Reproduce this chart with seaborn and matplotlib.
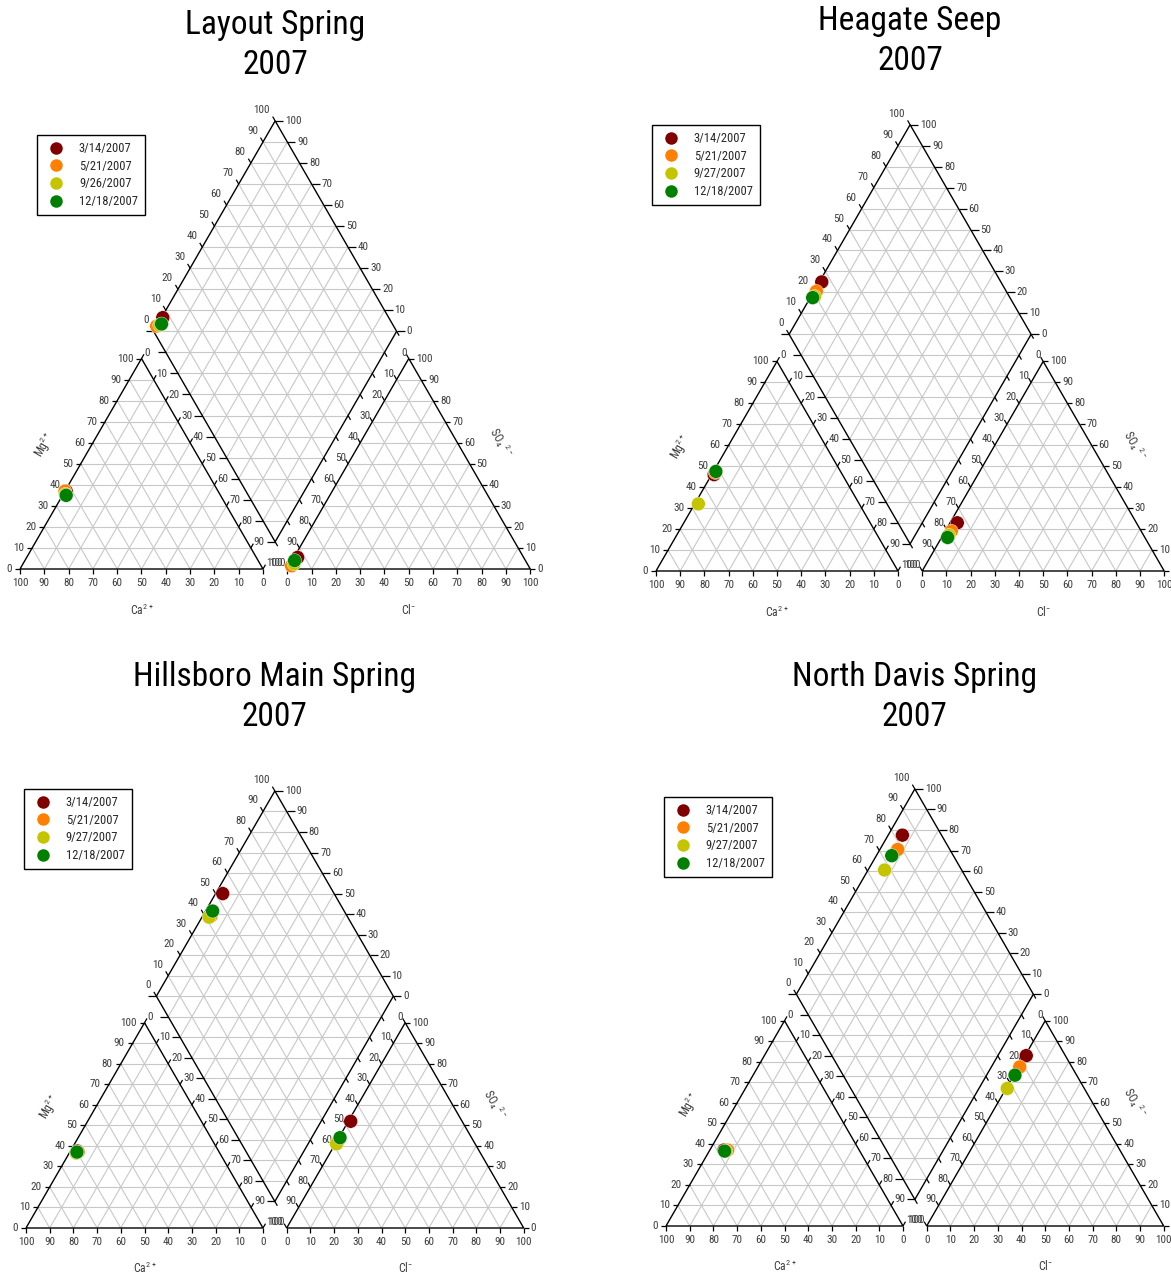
import numpy as np
import pandas as pd
import matplotlib
matplotlib.use('Agg')
import matplotlib.pyplot as plt
from matplotlib import font_manager
from matplotlib.collections import LineCollection
import seaborn as sns

# ------------------ data (percent of meq) ------------------
sites = ['Layout Spring', 'Heagate Seep', 'Hillsboro Main Spring', 'North Davis Spring']
year = '2007'
dates = [['3/14/2007', '5/21/2007', '9/26/2007', '12/18/2007'],
         ['3/14/2007', '5/21/2007', '9/27/2007', '12/18/2007'],
         ['3/14/2007', '5/21/2007', '9/27/2007', '12/18/2007'],
         ['3/14/2007', '5/21/2007', '9/27/2007', '12/18/2007']]
colors = ['#800000', '#ff8000', '#c4c400', '#008000']

# cations: Mg and Na+K (Ca is the rest)
mg = [[37, 37, 35.5, 35], [46, 47, 32, 47.5], [37.5, 37, 36.5, 37], [37, 37, 36.5, 36.5]]
nak = [[0.5, 0, 1, 1.5], [1, 1, 1.5, 1], [3, 3.5, 3, 3], [6, 7.5, 7, 6.5]]
# anions: SO4 and Cl (HCO3 is the rest)
so4 = [[5.5, 1.5, 2.5, 4], [23, 19, 17, 16], [52, 42, 41, 44], [83, 77.5, 67, 73.5]]
cl = [[1.5, 1, 1.5, 1], [3, 2.5, 2.5, 2.5], [1, 0.5, 0.5, 0.5], [0.5, 0.5, 0.5, 0.5]]

# ------------------ layout ------------------
W, HH = 1171, 1275
quads = [(0, 0, 585, 637), (585, 0, 1171, 637), (0, 637, 585, 1275), (585, 637, 1171, 1275)]
origins = [(20, 569, 243), (656, 571, 242), (26, 1228, 237), (666, 1226, 237)]
title_px = [45, 41, 697, 697]
legend_px = [(37, 135), (652, 125), (24, 789), (664, 797)]

H = np.sqrt(3) / 2
GAP = 0.1
YB = 0.112
CX = 1 + GAP / 2
GRID = '#c8c8c8'
TXT = '#3c3c3c'


def pick_narrow():
    fl = font_manager.fontManager.ttflist
    for name in ('Liberation Sans Narrow', 'Arial Narrow', 'Roboto Condensed', 'Open Sans Condensed'):
        if any(f.name == name for f in fl):
            return name, 'normal', True
    for fam in ('Liberation Sans', 'Noto Sans', 'DejaVu Sans', 'Open Sans', 'Roboto'):
        for f in fl:
            if (f.name == fam and f.stretch in ('condensed', 'semi-condensed', 'extra-condensed')
                    and f.style == 'normal' and f.weight in (400, 'normal', 'regular', 'book')):
                return fam, f.stretch, True
    return 'Liberation Sans', 'normal', False


sns.set_style('white')
fam, stretch, narrow = pick_narrow()
plt.rcParams['font.family'] = [fam, 'DejaVu Sans']
plt.rcParams['font.stretch'] = stretch
plt.rcParams['mathtext.fontset'] = 'custom'
plt.rcParams['mathtext.rm'] = 'Liberation Sans'
plt.rcParams['mathtext.default'] = 'regular'

TITLE_FS = 24 if narrow else 20.5
LEG_FS = 9 if narrow else 8.2
TICK_FS = 8 if narrow else 7


def dp(n, c):
    return (CX + (n - c) / 2, YB + (2 - n - c) * H)


def draw_frame(ax, s):
    p = 1.0 / s
    tl = 5 * p
    grid, edges, ticks = [], [], []
    fs = TICK_FS
    for x0 in (0, 1 + GAP):
        edges.append([(x0, 0), (x0 + 1, 0), (x0 + 0.5, H), (x0, 0)])
        for k in range(1, 10):
            f = k / 10
            grid.append([(x0 + f / 2, f * H), (x0 + 1 - f / 2, f * H)])
            grid.append([(x0 + f, 0), (x0 + f + (1 - f) / 2, (1 - f) * H)])
            grid.append([(x0 + 1 - f, 0), (x0 + (1 - f) / 2, (1 - f) * H)])
    edges.append([dp(0, 1), dp(0, 0), dp(1, 0), dp(1, 1), dp(0, 1)])
    for k in range(1, 10):
        f = k / 10
        grid.append([dp(f, 0), dp(f, 1)])
        grid.append([dp(0, f), dp(1, f)])
    for k in range(1, 20):
        t = k / 10
        if t <= 1:
            grid.append([dp(0, t), dp(t, 0)])
        else:
            grid.append([dp(t - 1, 1), dp(1, t - 1)])

    xa = 1 + GAP
    for k in range(11):
        f = k / 10
        lab = str(k * 10)
        # cation: Mg on left edge
        px, py = f / 2, f * H
        ticks.append([(px, py), (px - tl, py)])
        ax.text(px - 8 * p, py, lab, ha='right', va='center', fontsize=fs, color=TXT)
        # cation: Ca on base (100 at left)
        ticks.append([(f, 0), (f, -tl)])
        ax.text(f, -14 * p, str(100 - k * 10), ha='center', va='center', fontsize=fs, color=TXT)
        # cation: Na+K on right edge
        px, py = 0.5 + f / 2, (1 - f) * H
        ticks.append([(px, py), (px + tl * 0.5, py + tl * H)])
        ax.text(px + 3 * p, py + 6 * p, lab, ha='left', va='center', fontsize=fs, color=TXT)
        # anion: Cl on base
        ticks.append([(xa + f, 0), (xa + f, -tl)])
        ax.text(xa + f, -14 * p, lab, ha='center', va='center', fontsize=fs, color=TXT)
        # anion: SO4 on right edge
        px, py = xa + 1 - f / 2, f * H
        ticks.append([(px, py), (px + tl, py)])
        ax.text(px + 7 * p, py, lab, ha='left', va='center', fontsize=fs, color=TXT)
        # anion: HCO3 on left edge
        px, py = xa + 0.5 - f / 2, (1 - f) * H
        ticks.append([(px, py), (px - tl * 0.5, py + tl * H)])
        ax.text(px - 2 * p, py + 6 * p, lab, ha='right', va='center', fontsize=fs, color=TXT)
        # diamond upper-left: SO4+Cl
        px, py = dp(0, 1 - f)
        ticks.append([(px, py), (px - tl * 0.5, py + tl * H)])
        ax.text(px - 5 * p, py + 11 * p, lab, ha='right', va='center', fontsize=fs, color=TXT)
        # diamond upper-right: Ca+Mg
        px, py = dp(1 - f, 0)
        ticks.append([(px, py), (px + tl * 1.6, py)])
        ax.text(px + 10 * p, py, lab, ha='left', va='center', fontsize=fs, color=TXT)
        # diamond lower edges: ticks only
        px, py = dp(f, 1)
        ticks.append([(px, py), (px - tl * 1.6, py)])
        px, py = dp(1, f)
        ticks.append([(px, py), (px + tl * 0.5, py - tl * H)])

    ax.add_collection(LineCollection(grid, colors=GRID, linewidths=0.8, zorder=1))
    ax.add_collection(LineCollection(edges, colors='black', linewidths=1.0, zorder=2))
    ax.add_collection(LineCollection(ticks, colors='black', linewidths=0.9, zorder=2))

    ax.text(0.10, 0.51, r'Mg$^{2+}$', rotation=60, ha='center', va='center', fontsize=8.5, color=TXT)
    ax.text(0.5, -0.17, r'Ca$^{2+}$', ha='center', va='center', fontsize=8.5, color=TXT)
    ax.text(1.6, -0.17, r'Cl$^{-}$', ha='center', va='center', fontsize=8.5, color=TXT)
    ax.text(1.975, 0.52, r'SO$_4$ $^{2-}$', rotation=-60, ha='center', va='center', fontsize=8.5, color=TXT)


fig = plt.figure(figsize=(W / 100, HH / 100), dpi=100)

for i in range(4):
    x0, y0, x1, y1 = quads[i]
    ox, oy, s = origins[i]
    ax = fig.add_axes([x0 / W, 1 - y1 / HH, (x1 - x0) / W, (y1 - y0) / HH])
    ax.set_xlim((x0 - ox) / s, (x1 - ox) / s)
    ax.set_ylim((oy - y1) / s, (oy - y0) / s)
    ax.axis('off')

    draw_frame(ax, s)

    rows = []
    for j in range(4):
        n = nak[i][j] / 100
        m = mg[i][j] / 100
        so = so4[i][j] / 100
        c_ = cl[i][j] / 100
        hc = 1 - so - c_
        rows.append((dates[i][j], n + m / 2, m * H))
        rows.append((dates[i][j], 1 + GAP + c_ + so / 2, so * H))
        rows.append((dates[i][j], CX + (n - hc) / 2, YB + (2 - n - hc) * H))
    df = pd.DataFrame(rows, columns=['date', 'x', 'y'])

    sns.scatterplot(data=df, x='x', y='y', hue='date', hue_order=dates[i], palette=colors,
                    s=100, edgecolor='white', linewidth=0.3, ax=ax, zorder=5)
    handles = ax.get_legend().legend_handles
    for hd in handles:
        hd.set_markersize(9)
        hd.set_markeredgewidth(0)
    lx, ly = legend_px[i]
    ax.legend(handles, dates[i], loc='upper left', bbox_to_anchor=(lx / W, 1 - ly / HH),
              bbox_transform=fig.transFigure, fontsize=LEG_FS, frameon=True, fancybox=False,
              edgecolor='black', framealpha=1, borderpad=0.55, labelspacing=0.38,
              handlelength=2.0, handletextpad=0.8, borderaxespad=0)
    ax.get_legend().get_frame().set_linewidth(1.0)

    ax.text(CX, (oy - title_px[i]) / s, sites[i] + '\n' + year, ha='center', va='center',
            fontsize=TITLE_FS, linespacing=1.32, color='black')

fig.savefig('out.png', dpi=100)
